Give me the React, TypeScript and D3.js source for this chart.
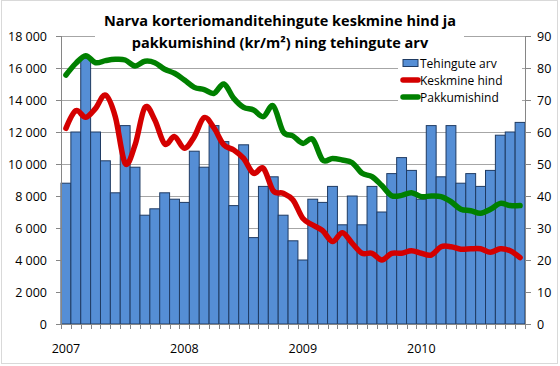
import { useEffect, useRef } from "react";
import * as d3 from "d3";

// Jan 2007 .. Nov 2010, one value per month
const startYear = 2007;
const yearLabels = ["2007", "2008", "2009", "2010"];

const tehingudArv = [
  44, 60, 83, 60, 51, 41, 62, 49, 34, 36, 41, 39,
  38, 54, 49, 62, 57, 37, 56, 27, 43, 46, 34, 26,
  20, 39, 38, 43, 31, 40, 31, 43, 35, 47, 52, 48,
  39, 62, 46, 62, 44, 47, 43, 48, 59, 60, 63,
];

const keskmineHind = [
  12230, 13330, 12920, 13480, 14310, 12960, 10040, 11190, 13540, 12750, 11250, 11710,
  10980, 11710, 12900, 12250, 11190, 10880, 10350, 9420, 9730, 8330, 8170, 7750,
  6600, 6190, 5830, 5150, 5710, 5040, 4420, 4420, 4000, 4420, 4420, 4580,
  4420, 4310, 4830, 4830, 4670, 4700, 4700, 4480, 4700, 4580, 4150,
];

const pakkumishind = [
  15560, 16290, 16770, 16330, 16460, 16540, 16500, 16130, 16420, 16330, 15920, 15670,
  15250, 14790, 14650, 14420, 15000, 14100, 13540, 13380, 12960, 13630, 12020, 11750,
  11290, 11540, 10250, 10350, 10250, 10080, 9420, 9210, 8650, 8020, 8040, 8210,
  7960, 8000, 7960, 7650, 7170, 7080, 6920, 7170, 7540, 7400, 7400,
];

const leftTicks = [0, 2000, 4000, 6000, 8000, 10000, 12000, 14000, 16000, 18000];
const rightTicks = [0, 10, 20, 30, 40, 50, 60, 70, 80, 90];

const titleLines = [
  "Narva korteriomanditehingute keskmine hind ja",
  "pakkumishind (kr/m²) ning tehingute arv",
];
const legendItems = [
  { label: "Tehingute arv", type: "bar", color: "#558ed5" },
  { label: "Keskmine hind", type: "line", color: "#d40000" },
  { label: "Pakkumishind", type: "line", color: "#008000" },
];

const font = "'Open Sans', 'Noto Sans', sans-serif";

export default function App() {
  const ref = useRef<SVGSVGElement | null>(null);

  useEffect(() => {
    document.body.style.margin = "0";
    const width = 560;
    const height = 366;
    const svg = d3.select(ref.current);
    svg.selectAll("*").remove();

    const left = 61;
    const right = 525;
    const top = 36;
    const bottom = 324;

    const x = d3.scaleBand<number>().domain(tehingudArv.map((_, i) => i)).range([left, right]).padding(0);
    const yLeft = d3.scaleLinear().domain([0, 18000]).range([bottom, top]);
    const yRight = d3.scaleLinear().domain([0, 90]).range([bottom, top]);
    const fmt = d3.formatLocale({ decimal: ",", thousands: " ", grouping: [3], currency: ["", ""] }).format(",d");

    svg.append("rect").attr("x", 1.5).attr("y", 0.5).attr("width", 556).attr("height", 363)
      .attr("fill", "#fff").attr("stroke", "#d9d9d9");

    // gridlines
    svg.selectAll("line.grid").data(leftTicks.filter((t) => t > 0)).join("line")
      .attr("class", "grid")
      .attr("x1", left).attr("x2", right)
      .attr("y1", (d) => Math.round(yLeft(d)) + 0.5).attr("y2", (d) => Math.round(yLeft(d)) + 0.5)
      .attr("stroke", "#a6a6a6").attr("stroke-width", 1);

    // bars
    svg.selectAll("rect.bar").data(tehingudArv).join("rect")
      .attr("class", "bar")
      .attr("x", (_, i) => x(i)!)
      .attr("y", (d) => yRight(d))
      .attr("width", x.bandwidth())
      .attr("height", (d) => bottom - yRight(d))
      .attr("fill", "#558ed5")
      .attr("stroke", "#1f3b63")
      .attr("stroke-width", 1);

    // axes lines
    svg.append("line").attr("x1", left + 0.5).attr("x2", left + 0.5).attr("y1", top).attr("y2", bottom)
      .attr("stroke", "#868686");
    svg.append("line").attr("x1", right + 0.5).attr("x2", right + 0.5).attr("y1", top).attr("y2", bottom)
      .attr("stroke", "#868686");
    svg.append("line").attr("x1", left).attr("x2", right + 1).attr("y1", bottom + 0.5).attr("y2", bottom + 0.5)
      .attr("stroke", "#868686");

    svg.selectAll("line.ltick").data(leftTicks).join("line")
      .attr("class", "ltick")
      .attr("x1", left - 5).attr("x2", left)
      .attr("y1", (d) => Math.round(yLeft(d)) + 0.5).attr("y2", (d) => Math.round(yLeft(d)) + 0.5)
      .attr("stroke", "#868686");
    svg.selectAll("line.rtick").data(rightTicks).join("line")
      .attr("class", "rtick")
      .attr("x1", right).attr("x2", right + 6)
      .attr("y1", (d) => Math.round(yRight(d)) + 0.5).attr("y2", (d) => Math.round(yRight(d)) + 0.5)
      .attr("stroke", "#868686");
    svg.selectAll("line.xtick").data(d3.range(tehingudArv.length + 1)).join("line")
      .attr("class", "xtick")
      .attr("x1", (i) => Math.round(left + i * x.step()) + 0.5)
      .attr("x2", (i) => Math.round(left + i * x.step()) + 0.5)
      .attr("y1", bottom).attr("y2", bottom + 5)
      .attr("stroke", "#868686");

    svg.selectAll("text.ltext").data(leftTicks).join("text")
      .attr("class", "ltext")
      .attr("x", 47).attr("y", (d) => yLeft(d) + 4.5)
      .attr("text-anchor", "end").attr("font-family", font).attr("font-size", 12.5).attr("fill", "#000")
      .text((d) => fmt(d));
    svg.selectAll("text.rtext").data(rightTicks).join("text")
      .attr("class", "rtext")
      .attr("x", 537).attr("y", (d) => yRight(d) + 4.5)
      .attr("font-family", font).attr("font-size", 12.5).attr("fill", "#000")
      .text((d) => d);
    svg.selectAll("text.xtext").data(yearLabels).join("text")
      .attr("class", "xtext")
      .attr("x", (d) => x((+d - startYear) * 12)! + x.bandwidth() / 2)
      .attr("y", 353)
      .attr("text-anchor", "middle").attr("font-family", font).attr("font-size", 12.5).attr("fill", "#000")
      .text((d) => d);

    // lines
    const line = (values: number[]) =>
      d3.line<number>()
        .x((_, i) => x(i)! + x.bandwidth() / 2)
        .y((d) => yLeft(d))
        .curve(d3.curveCardinal.tension(0))(values);

    svg.append("path").attr("d", line(keskmineHind)).attr("fill", "none")
      .attr("stroke", "#d40000").attr("stroke-width", 5.5).attr("stroke-linejoin", "round").attr("stroke-linecap", "round");
    svg.append("path").attr("d", line(pakkumishind)).attr("fill", "none")
      .attr("stroke", "#008000").attr("stroke-width", 5.5).attr("stroke-linejoin", "round").attr("stroke-linecap", "round");

    // title
    svg.append("rect").attr("x", 95).attr("y", 4).attr("width", 369).attr("height", 48).attr("fill", "#fff");
    svg.selectAll("text.title").data(titleLines).join("text")
      .attr("class", "title")
      .attr("x", 280).attr("y", (_, i) => 25.5 + i * 22)
      .attr("text-anchor", "middle").attr("font-family", font).attr("font-weight", "bold")
      .attr("font-size", 14.5).attr("fill", "#000")
      .text((d) => d);

    // legend
    svg.append("rect").attr("x", 398).attr("y", 55).attr("width", 124).attr("height", 50).attr("fill", "#fff");
    const legend = svg.selectAll("g.legend").data(legendItems).join("g")
      .attr("class", "legend")
      .attr("transform", (_, i) => `translate(0, ${63 + i * 17})`);
    legend.each(function (d) {
      const g = d3.select(this);
      if (d.type === "bar") {
        g.append("rect").attr("x", 403).attr("y", -3.5).attr("width", 15).attr("height", 7)
          .attr("fill", d.color).attr("stroke", "#1f3b63");
      } else {
        g.append("line").attr("x1", 403).attr("x2", 418).attr("y1", 0).attr("y2", 0)
          .attr("stroke", d.color).attr("stroke-width", 5.5).attr("stroke-linecap", "round");
      }
      g.append("text").attr("x", 420).attr("y", 4.5)
        .attr("font-family", font).attr("font-size", 12).attr("fill", "#000")
        .text(d.label);
    });
  }, []);

  return <svg ref={ref} width={560} height={366} style={{ display: "block" }} />;
}
